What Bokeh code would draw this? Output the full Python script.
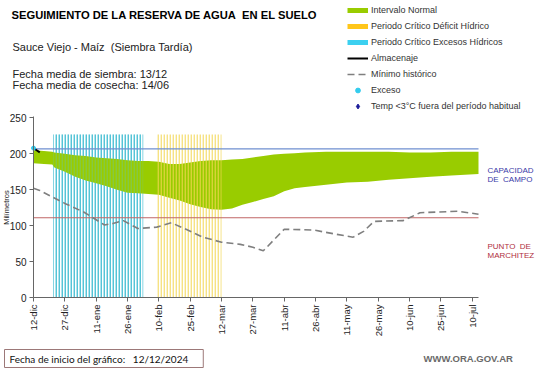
import math
from bokeh.plotting import figure
from bokeh.models import Range1d, FixedTicker, Label, Legend, LegendItem
from bokeh.embed import file_html
from bokeh.resources import INLINE

# ---- data ----
tick_days = [0, 15, 30, 45, 60, 75, 90, 105, 120, 135, 150, 165, 180, 195, 210]
tick_labels = ["12-dic", "27-dic", "11-ene", "26-ene", "10-feb", "25-feb", "12-mar",
               "27-mar", "11-abr", "26-abr", "11-may", "26-may", "10-jun", "25-jun", "10-jul"]
y_ticks = [0, 50, 100, 150, 200, 250]

band_days = [0, 5, 9, 10, 15, 20, 25, 30, 35, 40, 45, 50, 55, 60, 65, 70, 75, 80, 85, 90,
             95, 100, 105, 110, 115, 120, 125, 130, 140, 150, 160, 170, 180, 190, 200, 213]
band_high = [205, 204, 203, 202, 200, 198, 197, 195, 194, 193, 191, 190, 190, 189, 186, 186,
             188, 190, 191, 191, 192, 193, 195, 197, 199, 200, 201, 202, 203, 203, 203, 203,
             202, 202, 203, 203]
band_low = [187, 186, 185, 181, 175, 168, 163, 159, 155, 150, 146, 145, 144, 143, 139, 135,
            130, 126, 123, 122, 124, 129, 133, 137, 141, 148, 152, 154, 157, 160, 161, 164,
            166, 168, 170, 172]

min_days = [0, 3, 15, 24, 34, 38, 43, 50, 59, 66, 73, 81, 90, 99, 105, 110, 115, 120, 134,
            145, 153, 158, 163, 177, 185, 193, 203, 213]
min_vals = [152, 149, 131, 119, 101, 103, 107, 96, 98, 104, 95, 84, 77, 74, 70, 65, 80, 95,
            94, 88, 84, 92, 106, 107, 118, 119, 120, 116]

alm_days = [0.5, 1.5, 3]
alm_vals = [207, 205, 202]

exceso_days = [0]
exceso_vals = [208]

excess_period = [9.5, 52.5]
deficit_period = [59, 90]
period_top = 227

capacidad_campo = 207
punto_marchitez = 111
end_day = 213
y_max = 252

# ---- layout constants (pixels) ----
W, H = 541, 368
PLOT_L, PLOT_R, PLOT_T, PLOT_B = 33, 478, 116, 297
kx = (PLOT_R - PLOT_L) / end_day
ky = (PLOT_B - PLOT_T) / y_max

FONT = "Liberation Sans"
GREEN = "#99cc00"
CYAN = "#33ccee"
NB = "\u00a0"

p = figure(width=W, height=H, min_border=0,
           x_range=Range1d(-PLOT_L / kx, (W - PLOT_L) / kx),
           y_range=Range1d(-(H - PLOT_B) / ky, PLOT_B / ky),
           output_backend="svg", toolbar_location=None)
p.outline_line_color = None
p.xgrid.visible = False
p.ygrid.visible = False

p.xaxis.fixed_location = 0
p.yaxis.fixed_location = 0
p.xaxis.ticker = FixedTicker(ticks=tick_days)
p.xaxis.major_label_overrides = {d: l for d, l in zip(tick_days, tick_labels)}
p.xaxis.major_label_orientation = math.pi / 2
p.xaxis.bounds = (0, end_day)
p.yaxis.ticker = FixedTicker(ticks=y_ticks)
p.yaxis.bounds = (0, y_max)
for ax in (p.xaxis, p.yaxis):
    ax.axis_line_color = "#666666"
    ax.major_tick_line_color = "#666666"
    ax.minor_tick_line_color = None
    ax.major_tick_out = 4
    ax.major_tick_in = 0
    ax.major_label_text_font = FONT
    ax.major_label_text_color = "#222222"
p.xaxis.major_label_text_font_size = "9.5px"
p.yaxis.major_label_text_font_size = "10px"
p.xaxis.major_label_standoff = 3
p.yaxis.major_label_standoff = 3

# excess period stripes (behind band)
p.quad(left=[excess_period[0]], right=[excess_period[1]], bottom=[0], top=[period_top],
       fill_alpha=0, line_alpha=0, hatch_pattern="vertical_line", hatch_color="#55c4d6",
       hatch_scale=3, hatch_weight=1.8)

# normal interval band
p.varea(x=band_days, y1=band_low, y2=band_high, fill_color=GREEN, fill_alpha=1.0)

# light tint of the excess stripes over the band
p.quad(left=[excess_period[0]], right=[excess_period[1]], bottom=[0], top=[period_top],
       fill_alpha=0, line_alpha=0, hatch_pattern="vertical_line", hatch_color="#55c4d6",
       hatch_alpha=0.3, hatch_scale=3, hatch_weight=1.8)

# deficit period stripes (over band)
p.quad(left=[deficit_period[0]], right=[deficit_period[1]], bottom=[0], top=[period_top],
       fill_alpha=0, line_alpha=0, hatch_pattern="vertical_line", hatch_color="#f2d650",
       hatch_alpha=0.7, hatch_scale=3, hatch_weight=1.8)

# field capacity / wilting point
p.line([0, end_day], [capacidad_campo, capacidad_campo], line_color="#6f8fd0", line_width=1.2)
p.line([0, end_day], [punto_marchitez, punto_marchitez], line_color="#c06666", line_width=1.2)

r_min = p.line(min_days, min_vals, line_color="#7f7f7f", line_width=1.6, line_dash="7 4")
r_alm = p.line(alm_days, alm_vals, line_color="black", line_width=2)
r_exc = p.scatter(exceso_days, exceso_vals, marker="circle", size=4, fill_color=CYAN,
                  line_color=CYAN)

# legend proxies (drawn on a range that lies off the canvas)
p.extra_y_ranges = {"proxy": Range1d(10000, 10001)}
lg_green = p.line(band_days, band_high, line_color=GREEN, line_width=5, y_range_name="proxy")
lg_yel = p.line(deficit_period, [period_top, period_top], line_color="#ffc61a", line_width=5,
                y_range_name="proxy")
lg_cyan = p.line(excess_period, [period_top, period_top], line_color="#3cd0f0", line_width=5,
                 y_range_name="proxy")
lg_tmp = p.scatter(exceso_days, exceso_vals, marker="diamond", size=7, fill_color="#1a1a99",
                   line_color="#1a1a99", y_range_name="proxy")

legend = Legend(items=[
    LegendItem(label="Intervalo Normal", renderers=[lg_green]),
    LegendItem(label="Periodo Crítico Déficit Hídrico", renderers=[lg_yel]),
    LegendItem(label="Periodo Crítico Excesos Hídricos", renderers=[lg_cyan]),
    LegendItem(label="Almacenaje", renderers=[r_alm]),
    LegendItem(label="Mínimo histórico", renderers=[r_min]),
    LegendItem(label="Exceso", renderers=[r_exc]),
    LegendItem(label="Temp <3°C fuera del período habitual", renderers=[lg_tmp]),
], location=(347, H - 112), glyph_width=21, glyph_height=12, label_height=12,
   label_standoff=3, spacing=4, padding=0, margin=0, border_line_color=None,
   background_fill_alpha=0, label_text_font_size="9px", label_text_font=FONT,
   label_text_color="#333333")
p.add_layout(legend)


def lab(text, rx, ry, size, color="#111111", bold=False, font=FONT, angle=0, align="left", **kw):
    p.add_layout(Label(x=rx, y=H - ry, x_units="screen", y_units="screen", text=text,
                       text_font=font, text_font_size=size, text_color=color,
                       text_font_style="bold" if bold else "normal", angle=angle,
                       text_align=align, text_baseline="middle", **kw))


lab(f"SEGUIMIENTO DE LA RESERVA DE AGUA{NB}{NB}EN EL SUELO", 11, 14, "11.2px", color="black", bold=True)
lab(f"Sauce Viejo - Maíz{NB}{NB}(Siembra Tardía)", 12, 46, "11px", color="#222222")
lab("Fecha media de siembra: 13/12", 12, 73, "11px", color="#222222")
lab("Fecha media de cosecha: 14/06", 12, 84, "11px", color="#222222")
lab("CAPACIDAD", 487, 170, "8px", color="#3a3aa8")
lab(f"DE{NB}{NB}CAMPO", 487, 179, "8px", color="#3a3aa8")
lab(f"PUNTO{NB}{NB}DE", 487, 246, "8px", color="#b03040")
lab("MARCHITEZ", 487, 255, "8px", color="#b03040")
lab("Milímetros", 6, 207, "7.5px", color="#222222", angle=math.pi / 2, align="center")
lab(f"Fecha de inicio del gráfico:{NB}{NB}{NB}12/12/2024", 4, 358, "10px", color="#111111",
    font="Lato", border_line_color="#9c7878", border_line_width=1,
    padding=dict(left=5, right=15, top=3, bottom=3))
lab("WWW.ORA.GOV.AR", 423, 358, "9.5px", color="#6a6a6a", bold=True)

open("out.html", "w").write(file_html(p, INLINE))
